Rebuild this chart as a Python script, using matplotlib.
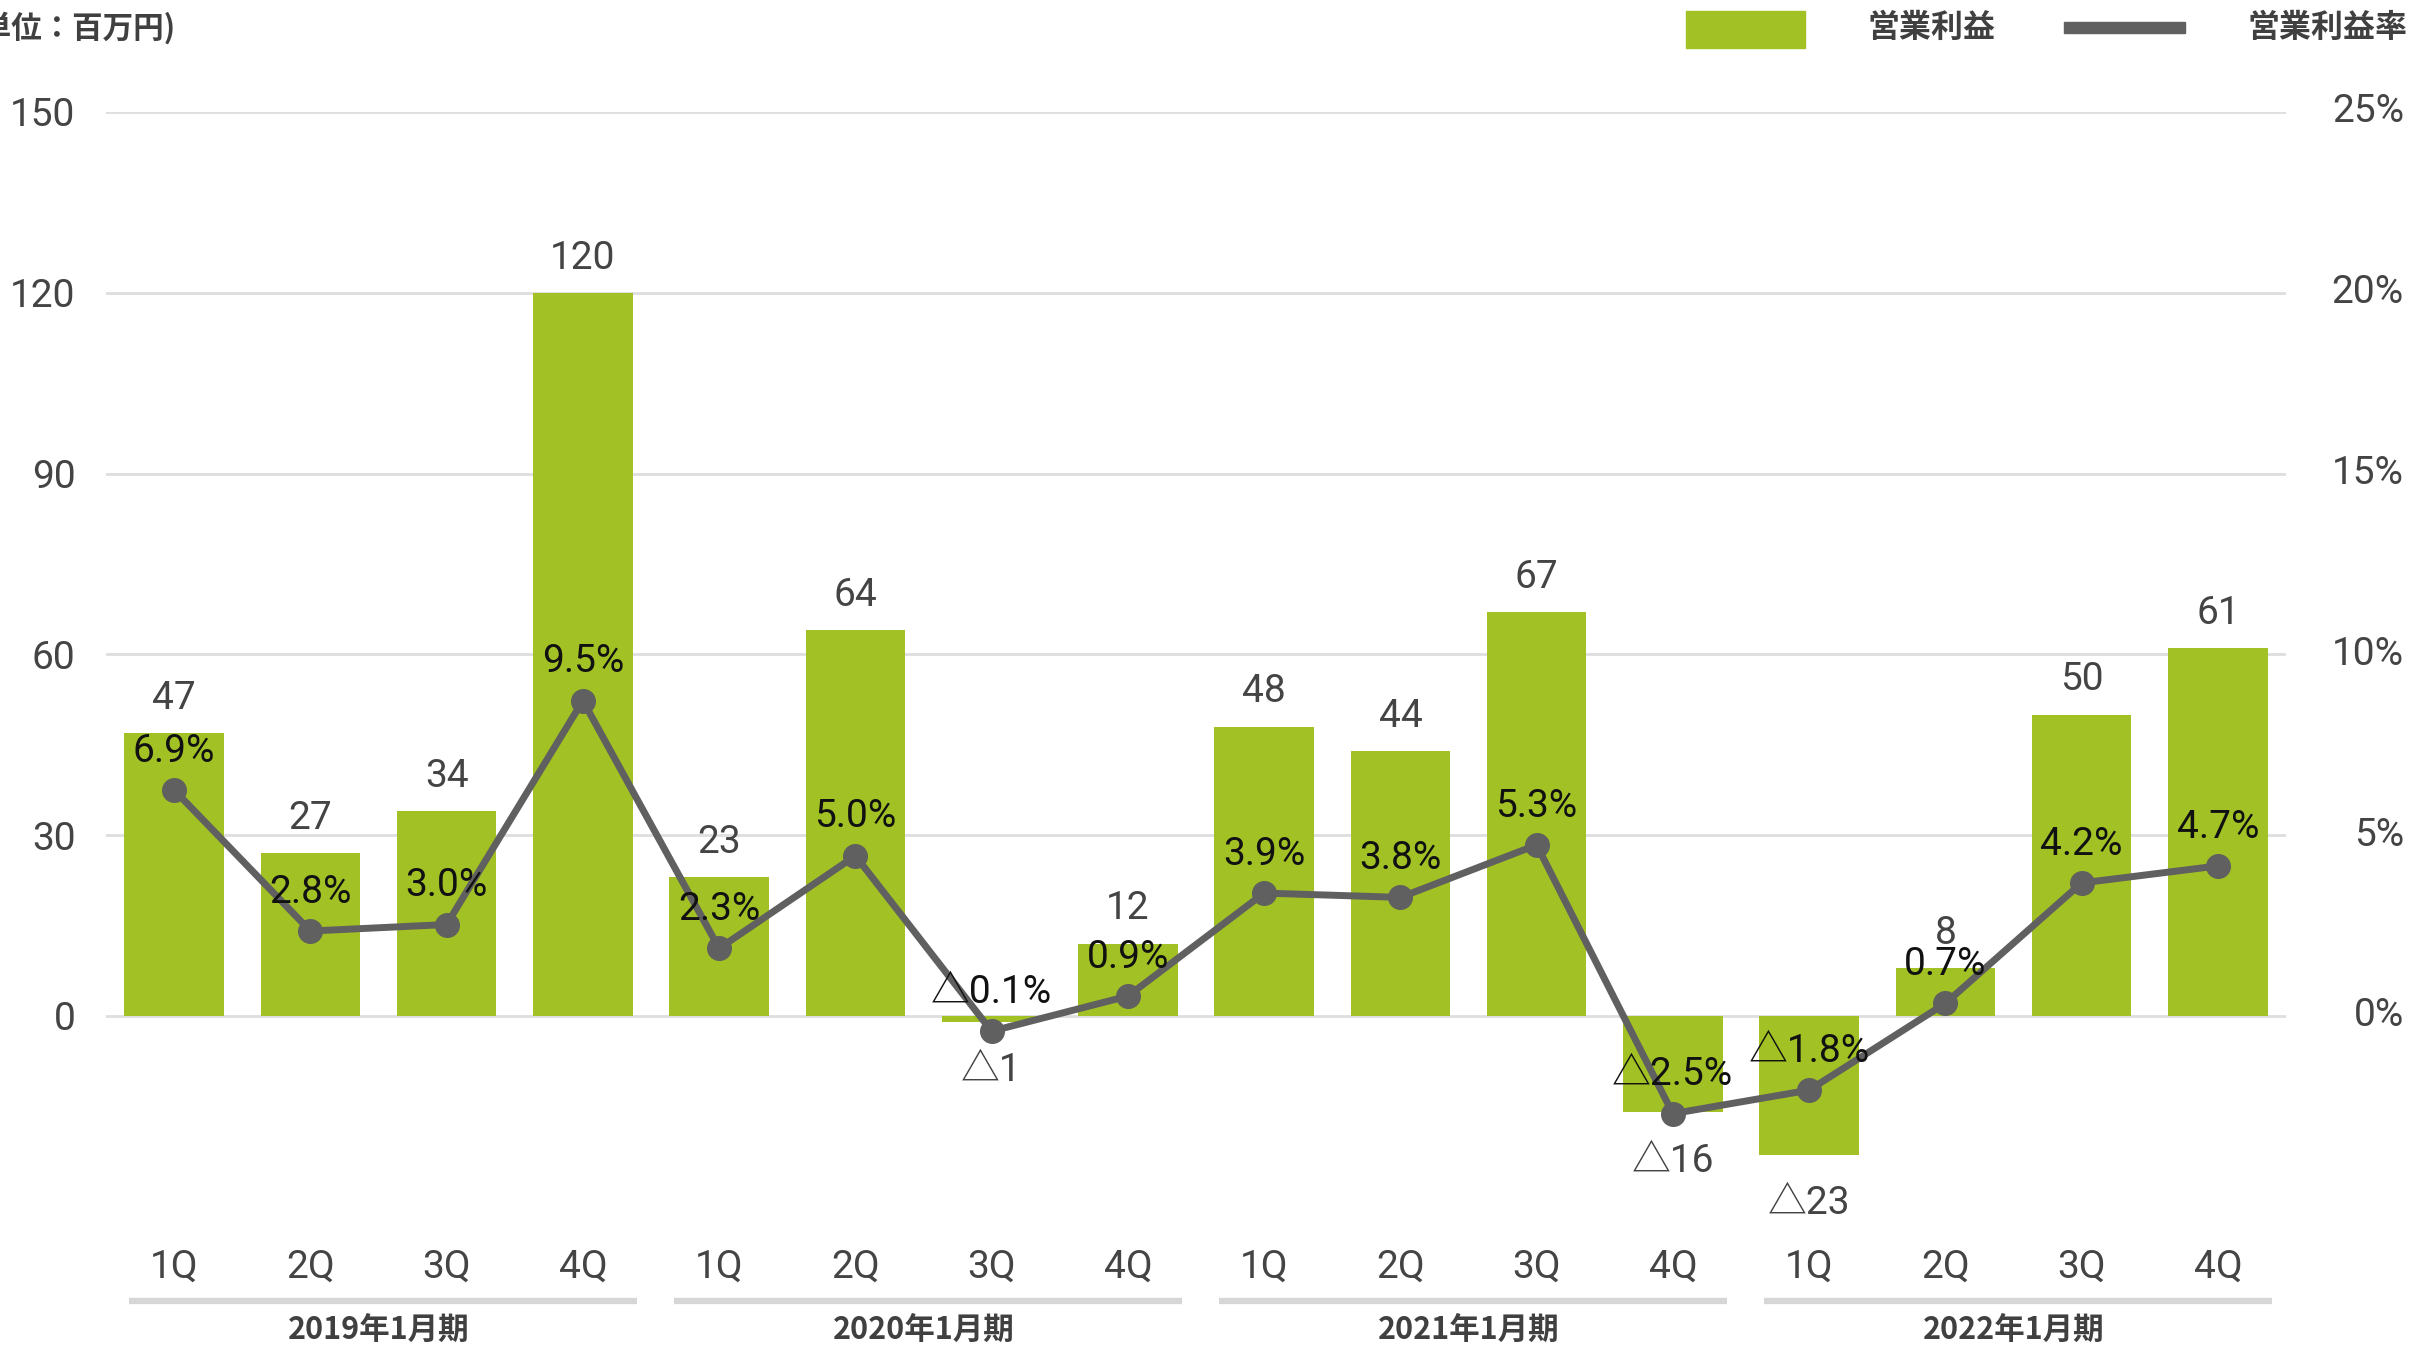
import matplotlib
matplotlib.use("Agg")
import matplotlib.pyplot as plt
from matplotlib import font_manager
from matplotlib.patches import Rectangle

# データ
quarters = ["1Q", "2Q", "3Q", "4Q"] * 4
periods = ["2019年1月期", "2020年1月期", "2021年1月期", "2022年1月期"]
profit = [47, 27, 34, 120, 23, 64, -1, 12, 48, 44, 67, -16, -23, 8, 50, 61]
margin = [6.9, 2.8, 3.0, 9.5, 2.3, 5.0, -0.1, 0.9, 3.9, 3.8, 5.3, -2.5, -1.8, 0.7, 4.2, 4.7]
# 線の点の位置（図から読み取った値, %）
margin_pos = [6.25, 2.35, 2.53, 8.72, 1.87, 4.43, -0.42, 0.55, 3.4, 3.28, 4.73, -2.7, -2.05, 0.35, 3.68, 4.15]
left_ticks = [0, 30, 60, 90, 120, 150]
right_ticks = [0, 5, 10, 15, 20, 25]

GREEN = "#a2c124"
LINE = "#606060"
GRAY = "#444444"

installed = {f.name for f in font_manager.fontManager.ttflist}
num_font = next((f for f in ["Roboto", "Liberation Sans", "Noto Sans"] if f in installed), "DejaVu Sans")
NUM = [num_font, "Noto Sans CJK JP", "DejaVu Sans"]
JP = ["Noto Sans CJK JP", "DejaVu Sans"]
FS = 28
WT = "normal"


def fmt(v, suffix=""):
    s = f"{abs(v)}{suffix}"
    return ("△" + s) if v < 0 else s


W, H = 2435, 1347
fig = plt.figure(figsize=(W / 100, H / 100), dpi=100)

x0, x1 = 106, 2286
y_top, y_zero = 112, 1016
unit = (y_zero - y_top) / 150
ymin = -30
y_bot = y_zero - ymin * unit
ax = fig.add_axes([x0 / W, (H - y_bot) / H, (x1 - x0) / W, (y_bot - y_top) / H])

xs = list(range(len(profit)))
ax.bar(xs, profit, width=0.73, color=GREEN, zorder=2)
ax.set_xlim(-0.5, 15.5)
ax.set_ylim(ymin, 150)

for t in left_ticks:
    ax.axhline(t, color="#dedede", lw=2, zorder=1)
ax.set_yticks(left_ticks)
ax.set_yticklabels([str(t) for t in left_ticks], family=NUM, fontsize=FS,
                   fontweight=WT, color=GRAY)
ax.tick_params(axis="y", length=0, pad=22)
ax.set_xticks([])
for s in ax.spines.values():
    s.set_visible(False)

# 棒のラベル
for x, v in zip(xs, profit):
    off = 25 if v >= 0 else -35
    ax.annotate(fmt(v), (x, v), xytext=(0, off), textcoords="offset points",
                ha="center", va="center", family=NUM, fontsize=FS, fontweight=WT,
                color=GRAY, zorder=5)

# 営業利益率
ax2 = ax.twinx()
ax2.set_ylim(ymin / 6, 25)
ax2.set_yticks([])
for s in ax2.spines.values():
    s.set_visible(False)
ax2.plot(xs, margin_pos, color=LINE, lw=5, marker="o", markersize=17, zorder=3)
for x, p, m in zip(xs, margin_pos, margin):
    ax2.annotate(fmt(m, "%"), (x, p), xytext=(0, 28), textcoords="offset points",
                 ha="center", va="center", family=NUM, fontsize=FS, color="#111111", zorder=6)
for t in right_ticks:
    ax2.text(1.0541, t, f"{t}%", transform=ax2.get_yaxis_transform(), ha="right", va="center",
             family=NUM, fontsize=FS, fontweight=WT, color=GRAY)

# 横軸ラベル
trans = ax.get_xaxis_transform()
for x, q in zip(xs, quarters):
    ax.text(x, -0.0645, q, transform=trans, ha="center", va="center",
            family=NUM, fontsize=FS, fontweight=WT, color=GRAY)
for i, p in enumerate(periods):
    ax.plot([4 * i - 0.33, 4 * i + 3.4], [-0.0959, -0.0959], transform=trans, clip_on=False,
            color="#d6d6d6", lw=4.5, solid_capstyle="butt")
    ax.text(4 * i + 1.5, -0.1225, p, transform=trans, ha="center", va="center",
            family=JP, fontsize=22, fontweight="bold", color="#404040")

# 単位・凡例
fig.text(176 / W, 1 - 28 / H, "(単位：百万円)", ha="right", va="center",
         family=JP, fontsize=22, fontweight="bold", color="#404040")
fig.patches.append(Rectangle((1686 / W, 1 - 48 / H), 119 / W, 37 / H,
                             transform=fig.transFigure, color=GREEN))
fig.text(1868 / W, 1 - 28 / H, "営業利益", ha="left", va="center",
         family=JP, fontsize=23, fontweight="bold", color="#404040")
fig.patches.append(Rectangle((2064 / W, 1 - 33 / H), 121 / W, 11 / H,
                             transform=fig.transFigure, color=LINE))
fig.text(2247 / W, 1 - 28 / H, "営業利益率", ha="left", va="center",
         family=JP, fontsize=23, fontweight="bold", color="#404040")

fig.savefig("out.png", dpi=100)
